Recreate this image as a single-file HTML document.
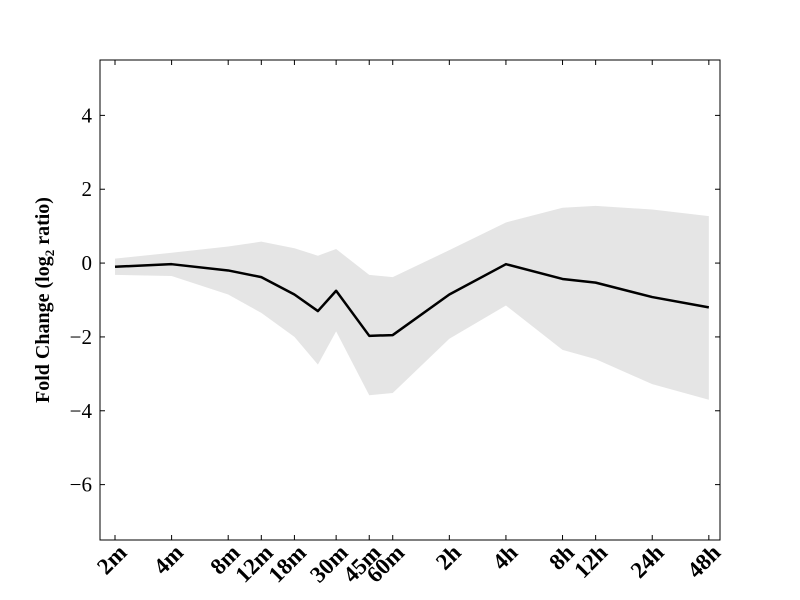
<!DOCTYPE html>
<html><head><meta charset="utf-8"><style>
body{margin:0;background:#fff;}
svg{display:block;font-family:"Liberation Serif",serif;}
</style></head><body>
<svg id="chart" width="800" height="600"></svg>
<script>
const categories=["2m","4m","8m","12m","18m","24m","30m","45m","60m","2h","4h","8h","12h","24h","48h"];
const minutes=[2,4,8,12,18,24,30,45,60,120,240,480,720,1440,2880];
const showLabel=[1,1,1,1,1,0,1,1,1,1,1,1,1,1,1];
const meanValues=[-0.1,-0.03,-0.2,-0.38,-0.85,-1.3,-0.75,-1.97,-1.95,-0.85,-0.03,-0.43,-0.53,-0.92,-1.2];
const upperValues=[0.12,0.28,0.45,0.58,0.4,0.2,0.38,-0.32,-0.38,0.35,1.1,1.5,1.55,1.45,1.27];
const lowerValues=[-0.32,-0.35,-0.85,-1.35,-2.0,-2.75,-1.85,-3.58,-3.52,-2.05,-1.15,-2.35,-2.6,-3.28,-3.7];
const yTicks=[4,2,0,-2,-4,-6];

const NS="http://www.w3.org/2000/svg";
const svg=document.getElementById('chart');
const L=100,R=720,T=60,B=540,yMin=-7.5,yMax=5.5;
const xs=m=>115+(Math.log2(m)-1)*56.6;
const ys=v=>T+(yMax-v)/(yMax-yMin)*(B-T);
function el(t,a){const e=document.createElementNS(NS,t);for(const k in a)e.setAttribute(k,a[k]);svg.appendChild(e);return e;}

let pts=minutes.map((m,i)=>xs(m)+","+ys(upperValues[i]));
for(let i=minutes.length-1;i>=0;i--)pts.push(xs(minutes[i])+","+ys(lowerValues[i]));
const band=el('polygon',{points:pts.join(' '),fill:'#e5e5e5',stroke:'none'});



const line=el('polyline',{points:minutes.map((m,i)=>xs(m)+","+ys(meanValues[i])).join(' '),fill:'none',stroke:'#000','stroke-width':2.5,'stroke-linejoin':'round'});



const frame=el('rect',{x:L,y:T,width:R-L,height:B-T,fill:'none',stroke:'#000','stroke-width':1});



yTicks.forEach(v=>{
  const y=ys(v);
  el('line',{x1:L,x2:L+5,y1:y,y2:y,stroke:'#000'});
  el('line',{x1:R-5,x2:R,y1:y,y2:y,stroke:'#000'});
  const t=el('text',{x:L-8,y:y+7,'text-anchor':'end','font-size':21});
  t.textContent=(v<0?"\u2212"+(-v):""+v);
  
  
});
minutes.forEach((m,i)=>{
  if(!showLabel[i])return;
  const x=xs(m);
  el('line',{x1:x,x2:x,y1:B,y2:B-5,stroke:'#000'});
  el('line',{x1:x,x2:x,y1:T,y2:T+5,stroke:'#000'});
  const t=el('text',{x:x+13,y:B+14,'text-anchor':'end','font-size':23,'font-weight':'bold',transform:`rotate(-45 ${x+13} ${B+14})`});
  t.textContent=categories[i];
  
  
});
const yt=el('text',{x:49,y:300,'text-anchor':'middle','font-size':20,'font-weight':'bold',transform:'rotate(-90 49 300)'});
yt.innerHTML='Fold Change (log<tspan font-size="13" dy="5">2</tspan><tspan dy="-5"> ratio)</tspan>';


</script>
</body></html>
